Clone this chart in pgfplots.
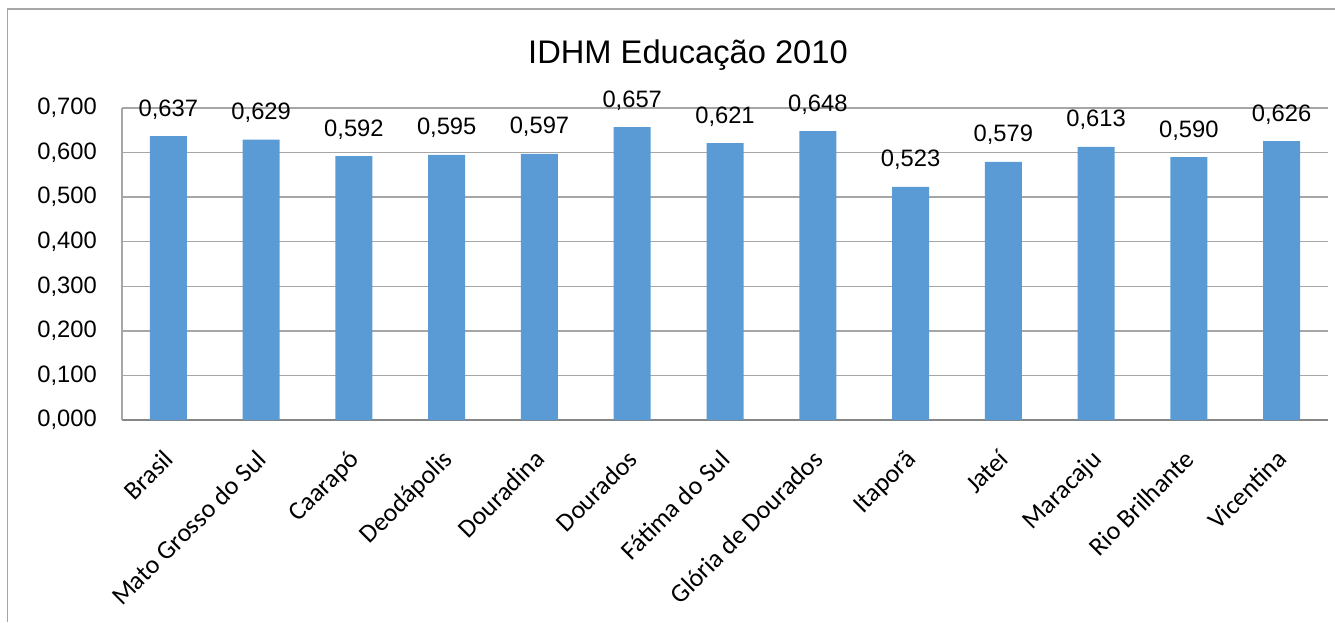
\documentclass[border=0pt]{standalone}
\usepackage{fontspec}
\setmainfont{Liberation Sans}
\newfontfamily\calibri{Carlito}
\usepackage{pgfplots}
\usepackage{pgfplotstable}
\pgfplotsset{compat=1.18}
\definecolor{barblue}{HTML}{5B9BD5}
\definecolor{gridgray}{HTML}{A6A6A6}
\definecolor{axisgray}{HTML}{868686}

% IDHM Educacao 2010, one row per municipality
\pgfplotstableread{
x val
0 0.637
1 0.629
2 0.592
3 0.595
4 0.597
5 0.657
6 0.621
7 0.648
8 0.523
9 0.579
10 0.613
11 0.590
12 0.626
}\idhm

\begin{document}
\begin{tikzpicture}
% 1 px of the reference = 0.75pt
\path[use as bounding box] (0,0) rectangle (1001.25pt,-466.5pt);
\draw[gridgray, line width=1.1pt] (5.6pt,-466.5pt) -- (5.6pt,-6.75pt) -- (1001.25pt,-6.75pt);
\node[font=\fontsize{24.5}{28}\selectfont, anchor=base, inner sep=0pt] at (516pt,-47.25pt) {IDHM Educação 2010};

\begin{axis}[
    at={(91.5pt,-315pt)}, anchor=south west,
    scale only axis,
    width=904.5pt, height=234pt,
    ybar, bar width=27.75pt,
    xmin=-0.5, xmax=12.5,
    ymin=0, ymax=0.7,
    ytick={0,0.1,0.2,0.3,0.4,0.5,0.6,0.7},
    xtick=data,
    xticklabels={Brasil, Mato Grosso do Sul, Caarapó, Deodápolis, Douradina, Dourados, Fátima do Sul, Glória de Dourados, Itaporã, Jateí, Maracaju, Rio Brilhante, Vicentina},
    axis x line*=bottom, axis y line*=left,
    axis line style={-},
    x axis line style={axisgray, line width=1.5pt},
    y axis line style={gridgray, line width=1pt},
    ymajorgrids, major grid style={gridgray, line width=1pt},
    major tick length=0pt,
    clip=false,
    xticklabel style={font=\calibri\fontsize{19.5}{22}\selectfont, xshift=-4.5pt, yshift=-21pt, rotate=45, anchor=north east, inner sep=0pt},
    yticklabel style={font=\fontsize{17.8}{20}\selectfont, anchor=east, inner sep=0pt, xshift=-18.75pt},
    nodes near coords,
    every node near coord/.append style={font=\fontsize{17.8}{20}\selectfont, inner sep=0pt, yshift=12.5pt},
    /pgf/number format/use comma,
    /pgf/number format/fixed,
    /pgf/number format/fixed zerofill,
    /pgf/number format/precision=3,
    /pgf/number format/assume math mode=true,
]
\addplot[fill=barblue, draw=none] table[x=x, y=val] {\idhm};
\end{axis}
\end{tikzpicture}
\end{document}
